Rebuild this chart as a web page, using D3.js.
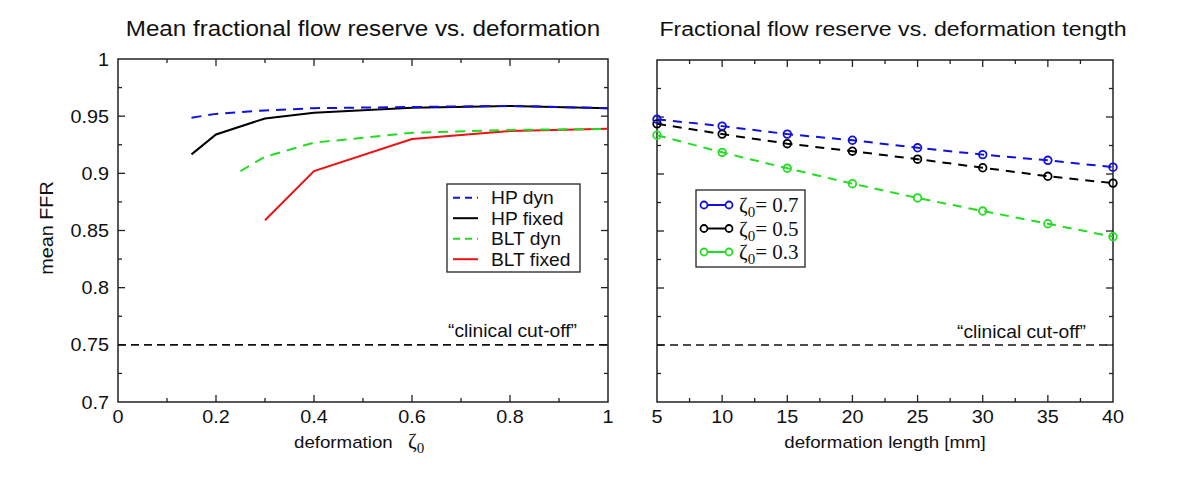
<!DOCTYPE html>
<html><head><meta charset="utf-8">
<script src="https://cdn.jsdelivr.net/npm/d3@7"></script>
<style>body{margin:0;background:#fff}svg{display:block}</style>
</head><body><svg id="c" width="1200" height="480" font-family="'Liberation Sans',Arial,sans-serif"></svg>
<script>
// Left panel data: mean FFR vs deformation zeta0
const leftX_HPdyn = [0.15, 0.2, 0.3, 0.4, 0.6, 0.8, 1.0];
const leftY_HPdyn = [0.9487, 0.952, 0.955, 0.957, 0.958, 0.959, 0.957];
const leftX_HPfixed = [0.15, 0.2, 0.3, 0.4, 0.6, 0.8, 1.0];
const leftY_HPfixed = [0.9166, 0.934, 0.948, 0.953, 0.9574, 0.959, 0.957];
const leftX_BLTdyn = [0.25, 0.3, 0.4, 0.6, 0.8, 1.0];
const leftY_BLTdyn = [0.902, 0.9145, 0.9268, 0.9355, 0.938, 0.9388];
const leftX_BLTfixed = [0.3, 0.4, 0.6, 0.8, 1.0];
const leftY_BLTfixed = [0.859, 0.902, 0.930, 0.937, 0.939];
const leftLegend = ["HP dyn", "HP fixed", "BLT dyn", "BLT fixed"];

// Right panel data: FFR vs deformation length
const lengths = [5, 10, 15, 20, 25, 30, 35, 40];
const ffr07 = [0.948, 0.942, 0.935, 0.9296, 0.923, 0.917, 0.912, 0.906];
const ffr05 = [0.944, 0.935, 0.9266, 0.920, 0.913, 0.9055, 0.898, 0.892];
const ffr03 = [0.934, 0.919, 0.905, 0.8915, 0.879, 0.8675, 0.8564, 0.845];
const zetaLabels = ["0.7", "0.5", "0.3"];

const cutoff = 0.75;
const yTicks = [0.7, 0.75, 0.8, 0.85, 0.9, 0.95, 1];
const leftXTicks = [0, 0.2, 0.4, 0.6, 0.8, 1];
const rightXTicks = [5, 10, 15, 20, 25, 30, 35, 40];

const svg = d3.select("#c");
const plotTop = 59, plotBottom = 402;
const SX = 1.1; // horizontal stretch of the sans text in the original
const SERIF = "'Liberation Serif','Times New Roman',serif";

function T(g, x, y, s, size, anchor, rot) {
  return g.append("text")
    .attr("transform", `translate(${x},${y})${rot ? " rotate(" + rot + ")" : ""} scale(${SX},1)`)
    .attr("font-size", size).attr("text-anchor", anchor || "start").attr("fill", "#111").text(s);
}

function frame(g, x, y, xMajor, xMinorStep, showYLabels) {
  const [x0, x1] = x.range();
  const [y0, y1] = y.range();
  g.append("rect").attr("x", x0).attr("y", y1).attr("width", x1 - x0).attr("height", y0 - y1)
    .attr("fill", "none").attr("stroke", "#222").attr("stroke-width", 1.5);
  const xd = x.domain();
  d3.range(xd[0], xd[1] + 1e-9, xMinorStep).forEach(v => {
    if (Math.abs(v - xd[0]) < 1e-9 || Math.abs(v - xd[1]) < 1e-9) return;
    const isMaj = xMajor.some(m => Math.abs(m - v) < 1e-9);
    const L = isMaj ? 7 : 4;
    g.append("line").attr("x1", x(v)).attr("x2", x(v)).attr("y1", y0).attr("y2", y0 - L).attr("stroke", "#222").attr("stroke-width", 1.3);
    g.append("line").attr("x1", x(v)).attr("x2", x(v)).attr("y1", y1).attr("y2", y1 + L).attr("stroke", "#222").attr("stroke-width", 1.3);
  });
  d3.range(0.7, 1.0001, 0.025).forEach((v, i) => {
    if (i === 0 || i === 12) return;
    const L = i % 2 === 0 ? 7 : 4;
    g.append("line").attr("x1", x0).attr("x2", x0 + L).attr("y1", y(v)).attr("y2", y(v)).attr("stroke", "#222").attr("stroke-width", 1.3);
    g.append("line").attr("x1", x1).attr("x2", x1 - L).attr("y1", y(v)).attr("y2", y(v)).attr("stroke", "#222").attr("stroke-width", 1.3);
  });
  xMajor.forEach(v => T(g, x(v), y0 + 21, String(v), 18, "middle"));
  if (showYLabels) yTicks.forEach(v => T(g, x0 - 9, y(v) + 6.5, String(v), 18, "end"));
  g.append("line").attr("x1", x0).attr("x2", x1).attr("y1", y(cutoff)).attr("y2", y(cutoff))
    .attr("stroke", "#111").attr("stroke-width", 1.6).attr("stroke-dasharray", "8,5");
}

// LEFT
const xL = d3.scaleLinear().domain([0, 1]).range([118, 608]);
const yL = d3.scaleLinear().domain([0.7, 1]).range([plotBottom, plotTop]);
const gL = svg.append("g");
frame(gL, xL, yL, leftXTicks, 0.1, true);
T(gL, 577, 337, "\u201Cclinical cut-off\u201D", 17.5, "end");

const lineL = d3.line().x(d => xL(d[0])).y(d => yL(d[1]));
const leftSeries = [
  {x: leftX_BLTfixed, y: leftY_BLTfixed, c: "#ee1111", dash: null},
  {x: leftX_BLTdyn, y: leftY_BLTdyn, c: "#22dd22", dash: "10,7"},
  {x: leftX_HPfixed, y: leftY_HPfixed, c: "#000", dash: null},
  {x: leftX_HPdyn, y: leftY_HPdyn, c: "#1111dd", dash: "10,7"}
];
leftSeries.forEach(s => {
  gL.append("path").attr("d", lineL(s.x.map((v, i) => [v, s.y[i]])))
    .attr("fill", "none").attr("stroke", s.c).attr("stroke-width", 2).attr("stroke-dasharray", s.dash);
});
const legL = gL.append("g");
legL.append("rect").attr("x", 447).attr("y", 184).attr("width", 133).attr("height", 88)
  .attr("fill", "#fff").attr("stroke", "#222").attr("stroke-width", 1.3);
const legStyles = [["#1111dd", "7,5"], ["#000", null], ["#22dd22", "7,5"], ["#ee1111", null]];
leftLegend.forEach((t, i) => {
  const yy = 197.7 + i * 20.5;
  legL.append("line").attr("x1", 453).attr("x2", 478).attr("y1", yy).attr("y2", yy)
    .attr("stroke", legStyles[i][0]).attr("stroke-width", 2).attr("stroke-dasharray", legStyles[i][1]);
  T(legL, 491, yy + 6.5, t, 17.5, "start");
});
T(svg, 363, 36, "Mean fractional flow reserve vs. deformation", 22, "middle");
T(svg, 53, 228, "mean FFR", 18, "middle", -90);
T(svg, 294, 448, "deformation", 17, "start");
const z = svg.append("text").attr("x", 408).attr("y", 448).attr("font-family", SERIF).attr("font-size", 21).attr("fill", "#111");
z.append("tspan").text("\u03B6");
z.append("tspan").attr("font-size", 15).attr("dy", 5).text("0");

// RIGHT
const xR = d3.scaleLinear().domain([5, 40]).range([657, 1113]);
const yR = d3.scaleLinear().domain([0.7, 1]).range([plotBottom, 60]);
const gR = svg.append("g");
frame(gR, xR, yR, rightXTicks, 2.5, false);
T(gR, 1086, 338, "\u201Cclinical cut-off\u201D", 17.5, "end");
const lineR = d3.line().x(d => xR(d[0])).y(d => yR(d[1]));
const rightSeries = [
  {y: ffr03, c: "#22dd22"},
  {y: ffr05, c: "#000"},
  {y: ffr07, c: "#1111dd"}
];
rightSeries.forEach(s => {
  const pts = lengths.map((v, i) => [v, s.y[i]]);
  gR.append("path").attr("d", lineR(pts)).attr("fill", "none").attr("stroke", s.c)
    .attr("stroke-width", 2).attr("stroke-dasharray", "9,7");
  gR.selectAll(null).data(pts).enter().append("circle")
    .attr("cx", d => xR(d[0])).attr("cy", d => yR(d[1])).attr("r", 3.8)
    .attr("fill", "none").attr("stroke", s.c).attr("stroke-width", 1.8);
});
const legR = gR.append("g");
legR.append("rect").attr("x", 696).attr("y", 190).attr("width", 109).attr("height", 77)
  .attr("fill", "#fff").attr("stroke", "#222").attr("stroke-width", 1.3);
const rc = ["#1111dd", "#000", "#22dd22"];
zetaLabels.forEach((t, i) => {
  const yy = 205 + i * 23.5;
  legR.append("line").attr("x1", 704).attr("x2", 729).attr("y1", yy).attr("y2", yy).attr("stroke", rc[i]).attr("stroke-width", 2);
  [704, 729].forEach(cx => legR.append("circle").attr("cx", cx).attr("cy", yy).attr("r", 3.5)
    .attr("fill", "#fff").attr("stroke", rc[i]).attr("stroke-width", 1.8));
  const tx = legR.append("text").attr("x", 739).attr("y", yy + 7)
    .attr("font-family", SERIF).attr("font-size", 21).attr("fill", "#111");
  tx.append("tspan").text("\u03B6");
  tx.append("tspan").attr("font-size", 15).attr("dy", 5).text("0");
  tx.append("tspan").attr("dy", -5).text("= " + t);
});
T(svg, 893, 36, "Fractional flow reserve vs. deformation tength", 21, "middle");
T(svg, 885, 448, "deformation length [mm]", 17, "middle");
</script></body></html>
